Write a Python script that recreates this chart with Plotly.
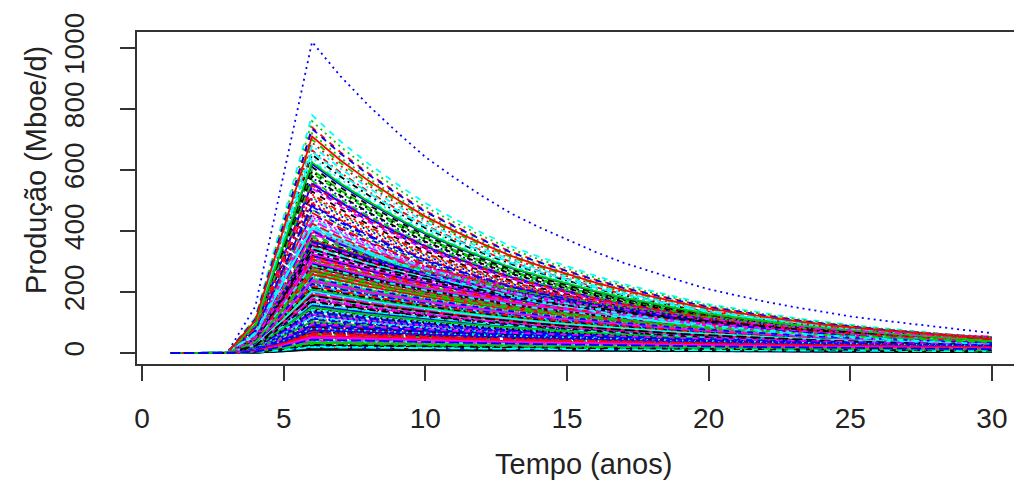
import plotly.graph_objects as go

# years 1..30
YEARS = list(range(1, 31))

# normalised production profiles (peak at year 6 = 1.0)
SHAPE_FAST = [0, 0, 0, 0.15, 0.58, 1.0, 0.89, 0.795, 0.71, 0.63, 0.565, 0.505, 0.45, 0.405,
              0.365, 0.325, 0.29, 0.26, 0.232, 0.205, 0.185, 0.165, 0.148, 0.132, 0.118,
              0.106, 0.095, 0.085, 0.075, 0.064]
SHAPE_MID = [0, 0, 0, 0.13, 0.55, 1.0, 0.92, 0.845, 0.78, 0.715, 0.66, 0.605, 0.555, 0.51,
             0.47, 0.435, 0.40, 0.365, 0.335, 0.31, 0.285, 0.26, 0.24, 0.22, 0.205, 0.19,
             0.17, 0.16, 0.145, 0.135]
SHAPE_SLOW = [0, 0, 0, 0.10, 0.50, 1.0, 0.95, 0.905, 0.86, 0.815, 0.775, 0.735, 0.70, 0.665,
              0.63, 0.60, 0.57, 0.54, 0.515, 0.49, 0.465, 0.44, 0.42, 0.40, 0.38, 0.36, 0.34,
              0.325, 0.31, 0.29]

# peak production (Mboe/d) of each simulated scenario
PEAKS = [
    320, 145, 510, 88, 265, 190, 410, 62, 230, 155, 355, 118, 275, 48, 600, 205, 780, 132, 300, 72,
    245, 168, 440, 95, 215, 35, 385, 1020, 178, 560, 125, 290, 58, 470, 198, 340, 110, 690, 252, 82,
    162, 395, 140, 520, 28, 235, 310, 105, 650, 185, 272, 66, 430, 150, 365, 92, 208, 575, 128, 45,
    282, 172, 720, 115, 348, 240, 76, 495, 195, 260, 138, 415, 55, 302, 182, 620, 100, 225, 375, 160,
    40, 455, 212, 330, 120, 268, 590, 84, 188, 405, 148, 740, 255, 70, 335, 175, 530, 112, 285, 22,
    222, 380, 135, 665, 198, 295, 60, 445, 170, 315, 102, 545, 248, 152, 360, 80, 700, 228, 142, 390,
    52, 280, 192, 480, 118, 325, 610, 165, 238, 90, 420, 205, 30, 350, 130, 555, 262, 74, 178, 460,
    305, 108, 640, 218, 158, 370, 64, 505, 244, 136, 290, 95, 760, 200, 345, 125, 580, 270, 42, 400,
    185, 335, 98, 490, 232, 155, 630, 278, 68, 425, 210, 318, 145, 540, 18, 258, 380, 122, 680, 196,
    355, 86, 470, 226, 162, 298, 56, 515, 242, 134, 410, 180, 595, 270, 104, 365, 38, 450, 214, 308,
    150, 735, 250, 78, 340, 190, 565, 128, 288, 435, 25, 220, 372, 112, 660, 236, 168, 398, 62, 485,
    202, 312, 140, 550, 264, 92, 418, 176, 330, 50, 625, 246, 116, 358, 188, 710, 274, 100, 442, 32,
    15, 45, 70, 26, 58, 12, 84, 36, 20, 66, 42, 94, 16, 54, 30, 76, 10, 48, 24, 62,
    34, 18, 80, 40, 14, 56, 28, 72, 22, 46, 11, 64, 38, 86, 19, 52, 27, 68, 33, 44,
]

X_TICKS = [0, 5, 10, 15, 20, 25, 30]
Y_TICKS = [0, 200, 400, 600, 800, 1000]

COLORS = ["#000000", "#FF0000", "#00CD00", "#0000FF", "#00FFFF", "#FF00FF"]
DASHES = ["solid", "6px,6px", "2px,4px", "2px,4px,6px,4px", "10px,4px"]

fig = go.Figure()
for i, peak in enumerate(PEAKS):
    if peak >= 400:
        shape = SHAPE_FAST
    elif peak >= 100:
        shape = SHAPE_MID
    else:
        shape = SHAPE_SLOW
    fig.add_trace(go.Scatter(
        x=YEARS, y=[peak * s for s in shape], mode="lines",
        line=dict(color=COLORS[i % 6], dash=DASHES[i % 5], width=1.8),
        showlegend=False, hoverinfo="skip"))

font_family = "Liberation Sans, Arial, sans-serif"
fig.update_layout(
    width=1014, height=480,
    margin=dict(l=137, r=0, t=32, b=116, autoexpand=False),
    paper_bgcolor="white", plot_bgcolor="white",
    font=dict(family=font_family, size=28, color="#222222"),
    xaxis=dict(range=[-0.18, 30.78], tickvals=X_TICKS, ticks="outside", ticklen=15,
               tickwidth=1.5, tickcolor="#333333", showline=True, linecolor="#333333",
               linewidth=2, mirror=True, showgrid=False, zeroline=False, automargin=False,
               ticklabelstandoff=13, tickfont=dict(size=28)),
    yaxis=dict(range=[-36, 1052.5], tickvals=Y_TICKS, ticks="outside", ticklen=15,
               tickwidth=1.5, tickcolor="#333333", showline=True, linecolor="#333333",
               linewidth=2, mirror=False, showgrid=False, zeroline=False, automargin=False,
               tickangle=-90, ticklabelstandoff=25, tickfont=dict(size=28)),
    annotations=[
        dict(text="Tempo (anos)", xref="paper", yref="paper",
             x=(583 - 137) / 877, y=-(464 - 364) / 332, xanchor="center", yanchor="middle",
             showarrow=False, font=dict(size=29)),
        dict(text="Produção (Mboe/d)", xref="paper", yref="paper",
             x=-(137 - 36) / 877, y=(364 - 170) / 332, xanchor="center", yanchor="middle",
             textangle=-90, showarrow=False, font=dict(size=29)),
    ],
)

fig.write_html(
    "out.html",
    config={"displayModeBar": False},
    post_script="document.body.style.margin='0';document.body.style.overflow='hidden';",
)
